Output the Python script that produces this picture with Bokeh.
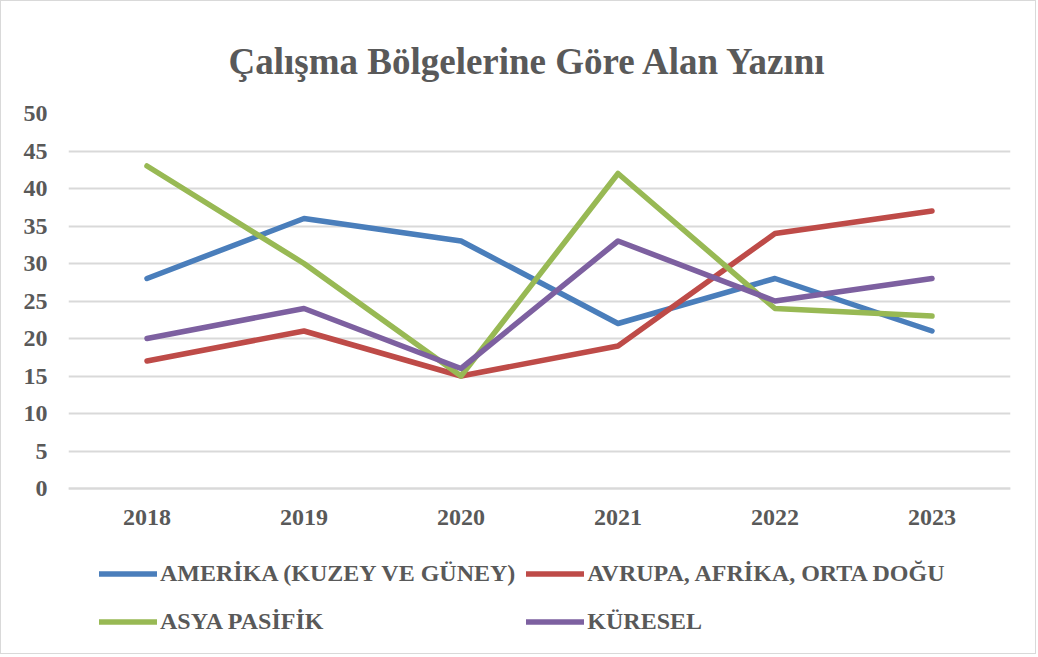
from bokeh.plotting import figure
from bokeh.models import Legend, LegendItem, FixedTicker, Title, Range1d
from bokeh.embed import file_html
from bokeh.resources import INLINE

title_text = "Çalışma Bölgelerine Göre Alan Yazını"
years = ["2018", "2019", "2020", "2021", "2022", "2023"]
series_names = ["AMERİKA (KUZEY VE GÜNEY)", "AVRUPA, AFRİKA, ORTA DOĞU", "ASYA PASİFİK", "KÜRESEL"]
amerika = [28, 36, 33, 22, 28, 21]
avrupa = [17, 21, 15, 19, 34, 37]
asya = [43, 30, 15, 42, 24, 23]
kuresel = [20, 24, 16, 33, 25, 28]
y_ticks = [0, 5, 10, 15, 20, 25, 30, 35, 40, 45, 50]

colors = ["#4A7EBB", "#BE4B48", "#98B954", "#7D60A0"]
FONT = "Liberation Serif"
TXT = "#595959"

xs = list(range(1, len(years) + 1))

# frame extends below the axis so the legend (inside the frame) is not clipped
p = figure(frame_width=942, frame_height=540, output_backend="svg", toolbar_location=None,
           x_range=Range1d(0.5, len(years) + 0.5), y_range=Range1d(-22, 50),
           min_border_left=67, min_border_right=25, min_border_top=112, min_border_bottom=0)
p.outline_line_color = None
p.styles = {"border": "1px solid #d9d9d9"}

p.title = Title(text=title_text, align="left", offset=160, text_font=FONT, text_font_style="bold",
                text_font_size="37px", text_color=TXT, standoff=63)

p.xaxis.fixed_location = 0
p.xaxis.ticker = FixedTicker(ticks=xs)
p.xaxis.major_label_overrides = {i: y for i, y in zip(xs, years)}
p.yaxis.ticker = FixedTicker(ticks=y_ticks)
for ax in (p.xaxis, p.yaxis):
    ax.major_tick_line_color = None
    ax.minor_tick_line_color = None
    ax.major_label_text_font = FONT
    ax.major_label_text_font_style = "bold"
    ax.major_label_text_font_size = "24px"
    ax.major_label_text_color = TXT
p.yaxis.axis_line_color = None
p.xaxis.axis_line_color = "#d9d9d9"
p.xaxis.axis_line_width = 2
p.xaxis.major_label_standoff = 15
p.yaxis.major_label_standoff = 15
p.xgrid.grid_line_color = None
p.ygrid.grid_line_color = "#d9d9d9"
p.ygrid.grid_line_width = 2

renderers = []
for vals, c in zip([amerika, avrupa, asya, kuresel], colors):
    r = p.line(xs, vals, line_color=c, line_width=5.5, line_cap="round", line_join="round")
    renderers.append(r)

legend = Legend(items=[LegendItem(label=n, renderers=[r]) for n, r in zip(series_names, renderers)],
                location=(31, 13), orientation="horizontal", ncols=2,
                border_line_color=None, background_fill_alpha=0, padding=0, margin=0,
                spacing=11, glyph_width=58, glyph_height=37, label_standoff=3,
                label_text_font=FONT, label_text_font_style="bold",
                label_text_font_size="24px", label_text_color=TXT)
p.add_layout(legend, "center")

open("out.html", "w").write(file_html(p, INLINE))
